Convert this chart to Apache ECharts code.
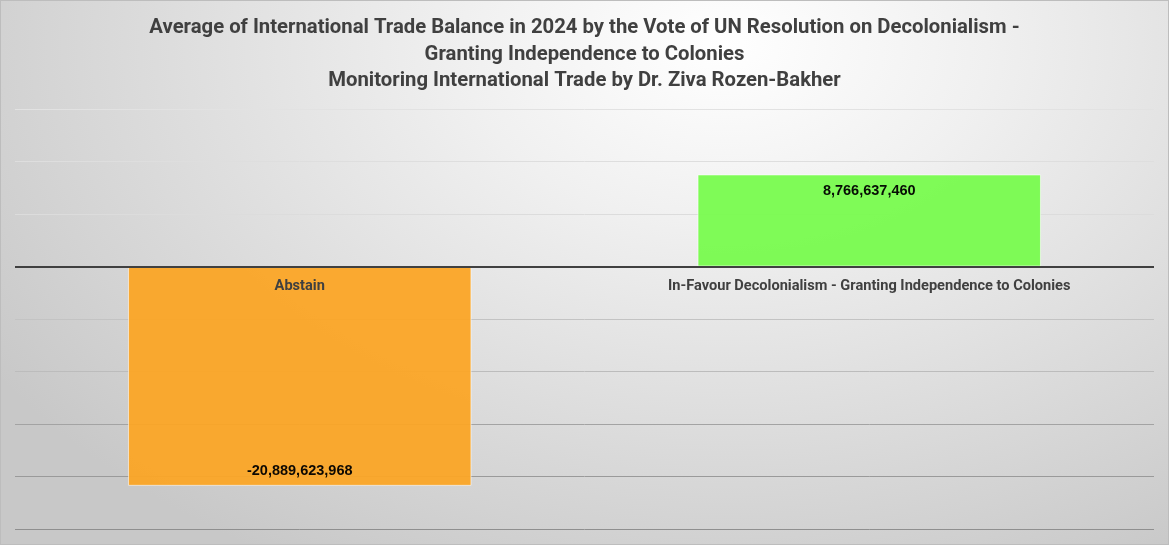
<!DOCTYPE html>
<html>
<head>
<meta charset="utf-8">
<script src="https://cdn.jsdelivr.net/npm/echarts@6/dist/echarts.min.js"></script>
<style>
html,body{margin:0;padding:0;}
#c{width:1169px;height:545px;box-sizing:border-box;border:1px solid #bdbdbd;
background: radial-gradient(ellipse 75% 110% at 62% 8%, #ffffff 0%, #f0f0f0 30%, #dcdcdc 65%, #c8c8c8 100%);}
</style>
</head>
<body>
<div id="c"></div>
<script>
const titleLines = [
  "Average of International Trade Balance in 2024 by the Vote of UN Resolution on Decolonialism -",
  "Granting Independence to Colonies",
  "Monitoring International Trade by Dr. Ziva Rozen-Bakher"
];
const categories = ["Abstain", "In-Favour Decolonialism - Granting Independence to Colonies"];
const values = [-20889623968, 8766637460];
const barColors = ["#FBA526", "#78FB4E"];
const yMin = -25000000000, yMax = 15000000000, yInterval = 5000000000;

const chart = echarts.init(document.getElementById('c'), null, {renderer:'canvas'});
chart.setOption({
  backgroundColor: 'transparent',
  title: {
    text: titleLines.join('\n'),
    left: 'center', top: 9,
    textStyle: {fontFamily: 'Roboto', fontWeight: 'bold', fontSize: 20.3, color: '#404040', lineHeight: 26.5}
  },
  grid: {left: 14, right: 14, top: 108, bottom: 15, containLabel: false, outerBoundsMode: 'none'},
  xAxis: {
    type: 'category', data: categories,
    axisLine: {show: false},
    axisTick: {show: false},
    axisLabel: {show: false}
  },
  yAxis: {
    type: 'value', min: yMin, max: yMax, interval: yInterval,
    axisLabel: {show: false}, axisLine: {show: false}, axisTick: {show: false},
    splitLine: {lineStyle: {width: 1, color: ['#8f8f8f','#9a9a9a','#a3a3a3','#bcbcbc','#c3c3c3','#404040','#dcdcdc','#dedede','#e2e2e2']}}
  },
  series: [{
    type: 'bar',
    data: values.map((v, i) => ({
      value: v,
      itemStyle: {color: barColors[i]},
      label: {position: v < 0 ? 'insideBottom' : 'insideTop', distance: v < 0 ? 7 : 9}
    })),
    barWidth: '60.3%',
    z: 2,
    itemStyle: {opacity: 0.95, borderColor: 'rgba(255,255,255,0.6)', borderWidth: 1},
    label: {
      show: true,
      formatter: p => p.value.toLocaleString('en-US'),
      fontFamily: 'Liberation Sans', fontWeight: 'bold', fontSize: 14.5, color: '#000'
    },
    markLine: {
      silent: true, symbol: 'none', label: {show: false},
      lineStyle: {color: '#404040', width: 2, type: 'solid'},
      data: [{yAxis: 0}],
      z: 4
    }
  }, {
    type: 'scatter',
    data: categories.map(c => [c, 0]),
    symbolSize: 0,
    z: 5,
    silent: true,
    itemStyle: {opacity: 1},
    label: {
      show: true, position: 'bottom', distance: 12,
      formatter: p => p.name || p.value[0],
      fontFamily: 'Roboto', fontWeight: 'bold', fontSize: 14.6, color: '#404040', opacity: 1
    }
  }]
});
</script>
</body>
</html>
